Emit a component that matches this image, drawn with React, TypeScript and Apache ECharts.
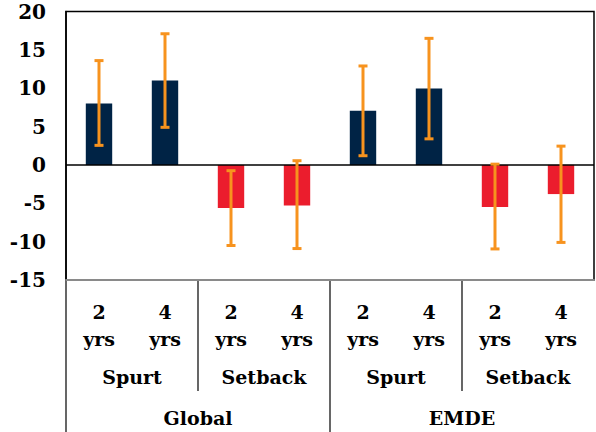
import React, { useEffect, useRef } from "react";
import * as echarts from "echarts";

const periods = ["2\nyrs", "4\nyrs", "2\nyrs", "4\nyrs", "2\nyrs", "4\nyrs", "2\nyrs", "4\nyrs"];
const episodes = ["Spurt", "Setback", "Spurt", "Setback"];
const groups = ["Global", "EMDE"];
const values = [8.0, 11.0, -5.6, -5.3, 7.05, 9.95, -5.5, -3.8];
const lowerBounds = [2.55, 4.9, -10.5, -10.9, 1.2, 3.4, -10.95, -10.1];
const upperBounds = [13.6, 17.1, -0.75, 0.55, 12.9, 16.5, 0.1, 2.45];
const yTicks = { min: -15, max: 20, interval: 5 };

const NAVY = "#002345";
const RED = "#EB1D2D";
const ORANGE = "#F7931E";
const FONT = "DejaVu Serif";

export default function App() {
  const ref = useRef<HTMLDivElement>(null);
  useEffect(() => {
    if (!ref.current) return;
    const chart = echarts.init(ref.current, undefined, { renderer: "svg" });
    const ls = (size: number) => ({
      fontFamily: FONT,
      fontWeight: "bold" as const,
      fontSize: size,
      color: "#000",
    });
    const option: any = {
      animation: false,
      backgroundColor: "#fff",
      grid: {
        left: 66,
        right: 2,
        top: 11.5,
        bottom: 152,
        show: true,
        borderColor: "#000",
        borderWidth: 1.5,
        backgroundColor: "transparent",
      },
      xAxis: [
        {
          type: "category",
          data: periods,
          position: "bottom",
          axisLine: { show: true, onZero: false, lineStyle: { color: "#8a8a8a", width: 2 } },
          axisTick: { show: false },
          axisLabel: { ...ls(19), margin: 18, lineHeight: 27, interval: 0 },
        },
        {
          type: "category",
          data: episodes,
          position: "bottom",
          axisLine: { show: false },
          axisTick: { show: false },
          axisLabel: { ...ls(19), margin: 86, lineHeight: 22, interval: 0 },
        },
        {
          type: "category",
          data: groups,
          position: "bottom",
          axisLine: { show: false },
          axisTick: { show: false },
          axisLabel: { ...ls(19), margin: 127, lineHeight: 22, interval: 0 },
        },
      ],
      yAxis: {
        type: "value",
        min: yTicks.min,
        max: yTicks.max,
        interval: yTicks.interval,
        axisLine: { show: true, lineStyle: { color: "#000", width: 1.5 } },
        axisTick: { show: false },
        splitLine: { show: false },
        axisLabel: { ...ls(20), margin: 20 },
      },
      series: [
        {
          type: "bar",
          xAxisIndex: 0,
          barWidth: "40%",
          data: values.map((v) => ({ value: v, itemStyle: { color: v >= 0 ? NAVY : RED } })),
          markLine: {
            silent: true,
            symbol: "none",
            label: { show: false },
            lineStyle: { color: "#000", width: 1.5, type: "solid" },
            data: [{ yAxis: 0 }],
            z: 5,
          },
        },
        {
          type: "custom",
          xAxisIndex: 0,
          z: 10,
          data: values.map((_, i) => [i, lowerBounds[i], upperBounds[i]]),
          renderItem: (params: any, api: any) => {
            const x = api.value(0);
            const lo = api.coord([x, api.value(1)]);
            const hi = api.coord([x, api.value(2)]);
            const half = 4.5;
            const style = { stroke: ORANGE, lineWidth: 3 };
            return {
              type: "group",
              children: [
                { type: "line", shape: { x1: lo[0], y1: lo[1], x2: hi[0], y2: hi[1] }, style },
                { type: "line", shape: { x1: lo[0] - half, y1: lo[1], x2: lo[0] + half, y2: lo[1] }, style },
                { type: "line", shape: { x1: hi[0] - half, y1: hi[1], x2: hi[0] + half, y2: hi[1] }, style },
              ],
            };
          },
        },
      ],
    };
    chart.setOption(option);

    const bottomY = chart.convertToPixel({ yAxisIndex: 0 }, yTicks.min) as number;
    const c0 = chart.convertToPixel({ xAxisIndex: 0 }, 0) as number;
    const c1 = chart.convertToPixel({ xAxisIndex: 0 }, 1) as number;
    const band = c1 - c0;
    const boundary = (i: number) => c0 - band / 2 + i * band;
    const lineStyle = { stroke: "#000", lineWidth: 1.2 };
    const elements: any[] = [
      { type: "line", shape: { x1: boundary(0), y1: bottomY, x2: boundary(0), y2: 432 }, style: lineStyle },
      { type: "line", shape: { x1: boundary(2), y1: bottomY, x2: boundary(2), y2: bottomY + 111 }, style: lineStyle },
      { type: "line", shape: { x1: boundary(4), y1: bottomY, x2: boundary(4), y2: 432 }, style: lineStyle },
      { type: "line", shape: { x1: boundary(6), y1: bottomY, x2: boundary(6), y2: bottomY + 111 }, style: lineStyle },
    ];
    chart.setOption({ graphic: elements.map((e) => ({ ...e, silent: true })) });

    return () => chart.dispose();
  }, []);
  return <div ref={ref} style={{ width: 596, height: 432, position: "absolute", left: 0, top: 0 }} />;
}
